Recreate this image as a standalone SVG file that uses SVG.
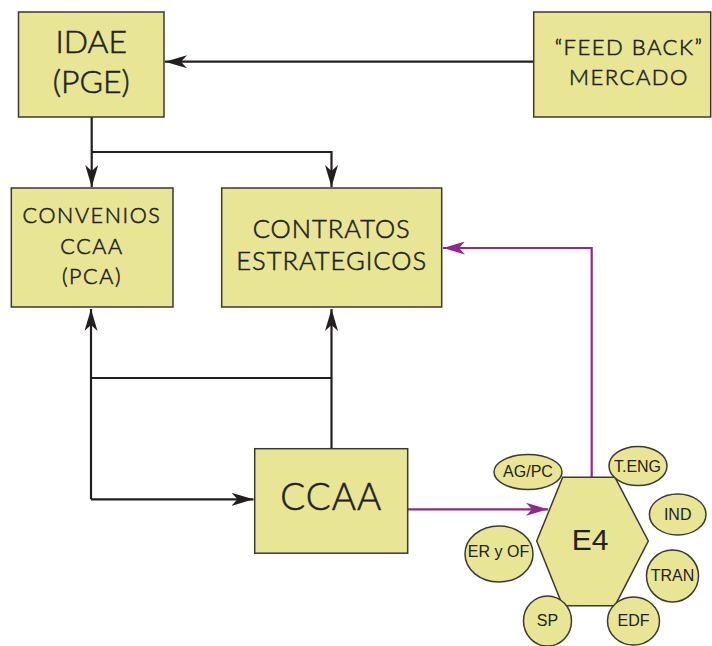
<svg xmlns="http://www.w3.org/2000/svg" width="712" height="646" viewBox="0 0 712 646">
<style>
.box{fill:#e8e594;stroke:#3a3a32;stroke-width:1.5}
.t{font-family:Lato,"Open Sans","Liberation Sans",sans-serif;font-weight:300;fill:#231f20;stroke:#231f20;stroke-width:0.55;text-anchor:middle}
.h{font-family:"Liberation Sans",Arial,sans-serif;fill:#231f20;text-anchor:middle}
.e{font-size:16px}
.k{fill:none;stroke:#231f20;stroke-width:2.2}
.p{fill:none;stroke:#93278f;stroke-width:2.2}
</style>
<defs>
<marker id="ak" viewBox="0 0 22 13" refX="22" refY="6.5" markerWidth="22" markerHeight="13" markerUnits="userSpaceOnUse" orient="auto"><path d="M0,0 L22,6.5 L0,13 L6,6.5 z" fill="#231f20"/></marker>
<marker id="ap" viewBox="0 0 22 13" refX="22" refY="6.5" markerWidth="22" markerHeight="13" markerUnits="userSpaceOnUse" orient="auto"><path d="M0,0 L22,6.5 L0,13 L6,6.5 z" fill="#93278f"/></marker>
</defs>
<g id="connectors">
<path class="k" d="M533,61.7 H165" marker-end="url(#ak)"/>
<path class="k" d="M91.7,117 V187" marker-end="url(#ak)"/>
<path class="k" d="M91.7,152 H331.5 V187" marker-end="url(#ak)"/>
<path class="k" d="M91,378 H331.5"/>
<path class="k" d="M91,499.3 V309" marker-end="url(#ak)"/>
<path class="k" d="M91,499.3 H253.5" marker-end="url(#ak)"/>
<path class="k" d="M331.5,448.7 V309" marker-end="url(#ak)"/>
<path class="p" d="M408,509.3 H548" marker-end="url(#ap)"/>
<path class="p" d="M591.7,477 V248 H443" marker-end="url(#ap)"/>
</g>
<g id="idae"><rect class="box" x="18.5" y="12" width="145.5" height="105"/>
<text class="t" x="91.3" y="53" font-size="32">IDAE</text>
<text class="t" x="91.3" y="93" font-size="32">(PGE)</text></g>
<g id="feedback"><rect class="box" x="533.7" y="12" width="177" height="105"/>
<text class="t" x="629" y="55" font-size="22" letter-spacing="1.5">“FEED BACK”</text>
<text class="t" x="629" y="85" font-size="22" letter-spacing="1.5">MERCADO</text></g>
<g id="convenios"><rect class="box" x="11.3" y="188" width="161.7" height="119"/>
<text class="t" x="92" y="223" font-size="21.5" letter-spacing="1.6">CONVENIOS</text>
<text class="t" x="92" y="254" font-size="21.5" letter-spacing="1.6">CCAA</text>
<text class="t" x="92" y="284" font-size="21.5" letter-spacing="1.6">(PCA)</text></g>
<g id="contratos"><rect class="box" x="221.7" y="188" width="220" height="119"/>
<text class="t" x="331.7" y="238" font-size="25.5" letter-spacing="1">CONTRATOS</text>
<text class="t" x="331.7" y="270" font-size="25.5" letter-spacing="1">ESTRATEGICOS</text></g>
<g id="ccaa"><rect class="box" x="254.7" y="448.7" width="153" height="104.5"/>
<text class="t" x="331.2" y="510" font-size="37" letter-spacing="1">CCAA</text></g>
<g id="e4"><polygon class="box" points="562.7,477.3 615,477.3 648.3,541 615,605.7 562.7,605.7 536.7,541"/>
<text class="h" x="590" y="550" font-size="30">E4</text></g>
<g id="agpc"><ellipse class="box" cx="528" cy="472" rx="34" ry="17.5"/><text class="h e" x="528" y="477">AG/PC</text></g>
<g id="teng"><ellipse class="box" cx="638" cy="466" rx="29" ry="19.5"/><text class="h e" x="637.5" y="471.7">T.ENG</text></g>
<g id="ind"><ellipse class="box" cx="677.7" cy="514.5" rx="28.3" ry="20.5"/><text class="h e" x="677.7" y="520">IND</text></g>
<g id="eryof"><ellipse class="box" cx="499" cy="554" rx="34" ry="28"/><text class="h e" x="498.5" y="557">ER y OF</text></g>
<g id="tran"><ellipse class="box" cx="672.5" cy="576" rx="26" ry="26"/><text class="h e" x="672.5" y="581">TRAN</text></g>
<g id="sp"><ellipse class="box" cx="547.5" cy="621" rx="24" ry="25"/><text class="h e" x="547.5" y="626">SP</text></g>
<g id="edf"><ellipse class="box" cx="633.5" cy="621" rx="26" ry="24"/><text class="h e" x="633.5" y="626">EDF</text></g>
</svg>
